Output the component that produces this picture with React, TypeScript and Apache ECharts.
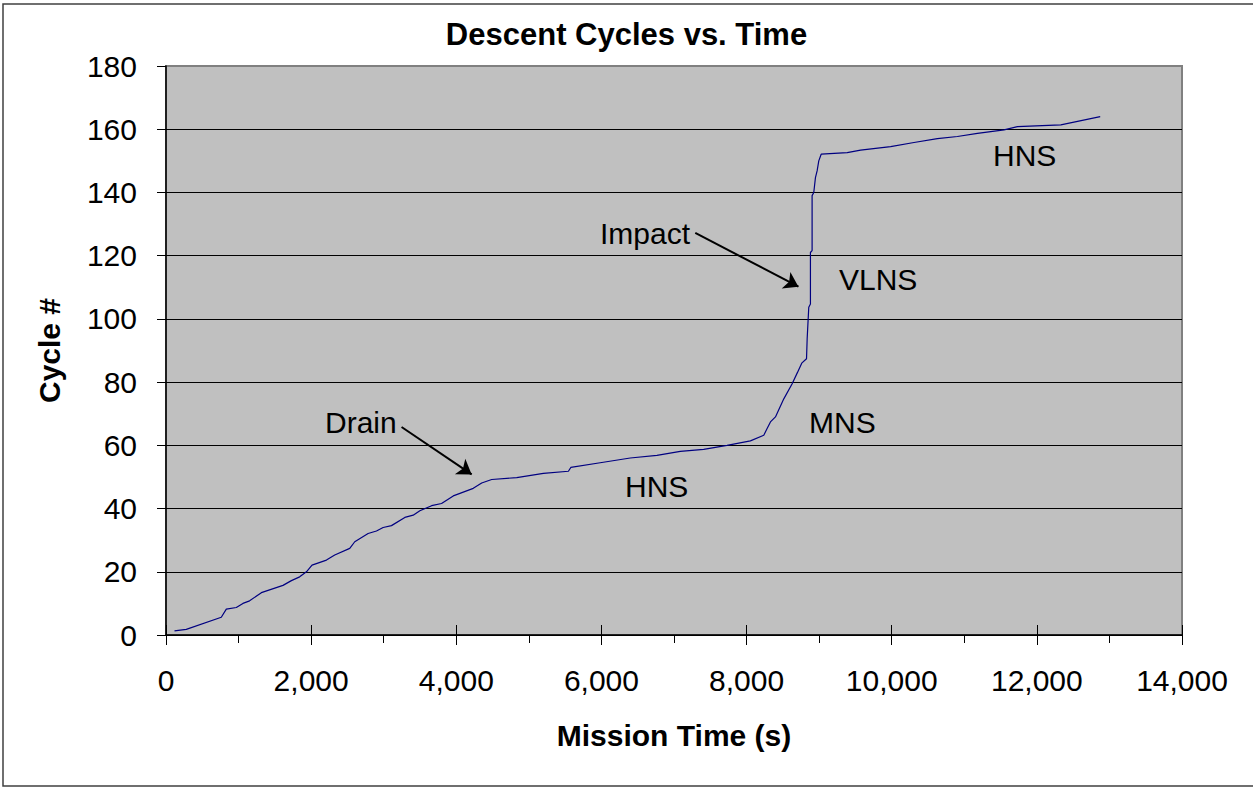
import React, { useEffect, useRef } from "react";
import * as echarts from "echarts";

const missionTime: number[] = [
  117, 279, 762, 831, 969, 1060, 1152, 1314, 1612, 1728, 1842, 1935, 2012, 2211, 2325, 2532, 2601,
  2785, 2900, 2992, 3107, 3291, 3406, 3498, 3660, 3797, 3958, 4234, 4350, 4488, 4833, 5200, 5545,
  5578, 5983, 6397, 6765, 7087, 7409, 7731, 8053, 8237, 8283, 8329, 8398, 8513, 8628, 8700, 8760,
  8826, 8835, 8857, 8880, 8880, 8903, 8903, 8926, 8949, 8972, 8995, 9028, 9387, 9571, 9985, 10307,
  10629, 10905, 11181, 11548, 11732, 12330, 12873,
];
const cycleNum: number[] = [
  1.3, 1.8, 5.6, 8.2, 8.7, 10, 10.8, 13.4, 15.7, 17.2, 18.4, 20, 22.1, 23.7, 25.3, 27.4, 29.5,
  32.1, 32.9, 34, 34.6, 37.2, 37.9, 39.3, 40.9, 41.6, 44, 46.4, 48.1, 49.2, 49.8, 51.1, 51.8,
  53, 54.5, 56, 56.8, 58.1, 58.7, 60, 61.4, 63.2, 65.3, 67.4, 69, 74.7, 79.5, 83, 86,
  87.4, 93.7, 103.7, 104.7, 121, 121.6, 139, 140, 144.7, 146.8, 150, 152.1, 152.6, 153.4, 154.5, 155.8,
  157, 157.7, 158.7, 159.8, 160.8, 161.4, 164,
];

// annotation arrows: [startX, startY, endX, endY] in data units
const drainArrow: number[] = [3246, 65.8, 4212, 50.8];
const impactArrow: number[] = [7293, 127.2, 8715, 110.2];

const FONT = "'Liberation Sans', Arial, Helvetica, sans-serif";

export default function App() {
  const ref = useRef<HTMLDivElement>(null);
  useEffect(() => {
    if (!ref.current) return;
    const chart = echarts.init(ref.current, null, { renderer: "svg" });
    const data = missionTime.map((x, i) => [x, cycleNum[i]]);
    const splitColors = Array.from({ length: 10 }, (_, i) => (i === 9 ? "#808080" : "#000000"));
    const txt = (text: string, x: number, y: number) => ({
      type: "text",
      x,
      y,
      style: { text, fill: "#000", font: `30px ${FONT}`, textVerticalAlign: "middle", textAlign: "left" },
      silent: true,
    });
    chart.setOption({
      animation: false,
      backgroundColor: "#ffffff",
      textStyle: { fontFamily: FONT },
      title: {
        text: "Descent Cycles vs. Time",
        left: "center",
        top: 14,
        textStyle: { fontSize: 31, fontWeight: "bold", color: "#000", fontFamily: FONT },
      },
      grid: {
        left: 166,
        right: 71,
        top: 66,
        bottom: 152,
        show: true,
        backgroundColor: "#c0c0c0",
        borderColor: "#808080",
        borderWidth: 2,
      },
      xAxis: [
        {
          type: "value",
          min: 0,
          max: 14000,
          interval: 2000,
          name: "Mission Time (s)",
          nameLocation: "middle",
          nameGap: 85,
          nameTextStyle: { fontSize: 30, fontWeight: "bold", color: "#000", fontFamily: FONT },
          axisLine: { show: true, onZero: false, lineStyle: { color: "#000", width: 1.5 } },
          axisTick: { show: true, inside: false, length: 10, lineStyle: { color: "#000", width: 1 } },
          minorTick: { show: true, splitNumber: 2, length: 8, lineStyle: { color: "#000", width: 1 } },
          axisLabel: {
            fontSize: 30,
            color: "#000",
            margin: 30,
            fontFamily: FONT,
            formatter: (v: number) => v.toLocaleString("en-US"),
          },
          splitLine: { show: false },
        },
        {
          type: "value",
          min: 0,
          max: 14000,
          interval: 2000,
          position: "bottom",
          axisLine: { show: false },
          axisTick: { show: true, inside: true, length: 10, lineStyle: { color: "#000", width: 1 } },
          axisLabel: { show: false },
          splitLine: { show: false },
        },
      ],
      yAxis: {
        type: "value",
        min: 0,
        max: 180,
        interval: 20,
        name: "Cycle #",
        nameLocation: "middle",
        nameGap: 102,
        nameRotate: 90,
        nameTextStyle: { fontSize: 30, fontWeight: "bold", color: "#000", fontFamily: FONT },
        axisLine: { show: true, onZero: false, lineStyle: { color: "#000", width: 1.5 } },
        axisTick: { show: true, inside: false, length: 9, lineStyle: { color: "#000", width: 1 } },
        axisLabel: { fontSize: 30, color: "#000", margin: 29, fontFamily: FONT },
        splitLine: { show: true, lineStyle: { color: splitColors, width: 1 } },
      },
      series: [
        {
          type: "line",
          xAxisIndex: 0,
          data,
          showSymbol: false,
          symbol: "none",
          lineStyle: { color: "#000080", width: 1.2 },
          markLine: {
            silent: true,
            symbol: ["none", "arrow"],
            symbolSize: 14,
            label: { show: false },
            lineStyle: { color: "#000", width: 2, type: "solid" },
            data: [
              [
                { coord: [drainArrow[0], drainArrow[1]] },
                { coord: [drainArrow[2], drainArrow[3]] },
              ],
              [
                { coord: [impactArrow[0], impactArrow[1]] },
                { coord: [impactArrow[2], impactArrow[3]] },
              ],
            ],
          },
        },
      ],
      graphic: [
        {
          type: "rect",
          shape: { x: 3, y: 4, width: 1260, height: 782 },
          style: { fill: "none", stroke: "#404040", lineWidth: 1.5 },
          silent: true,
        },
        txt("Drain", 325, 422),
        txt("Impact", 600, 233),
        txt("VLNS", 839, 279),
        txt("MNS", 809, 422),
        txt("HNS", 625, 486),
        txt("HNS", 993, 155),
      ],
    });
    return () => chart.dispose();
  }, []);
  return (
    <div
      ref={ref}
      style={{ position: "absolute", left: 0, top: 0, width: 1253, height: 787 }}
    />
  );
}
